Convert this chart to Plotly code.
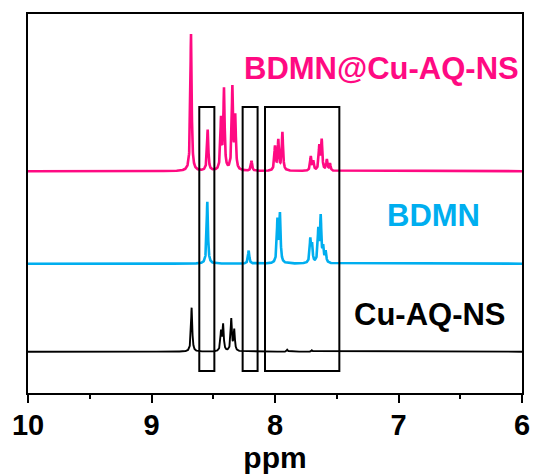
import numpy as np
import plotly.graph_objects as go

# 1H NMR peak lists (chemical shift in ppm, intensity in a.u.)
hybrid_ppm = [8.680, 8.545, 8.437, 8.413, 8.345, 8.322, 8.190,
              8.000, 7.973, 7.940, 7.710, 7.690, 7.641, 7.622, 7.580, 7.555]
hybrid_int = [137, 41, 50, 80, 82, 52, 10,
              24, 30, 38, 14, 9, 24, 30, 11, 7]

bdmn_ppm = [8.548, 8.213, 7.980, 7.960, 7.714, 7.700, 7.649, 7.630, 7.610, 7.590]
bdmn_int = [62, 13, 42, 48, 23, 17, 32, 45, 14, 11]

cu_ppm = [8.675, 8.437, 8.420, 8.354, 8.330, 7.900, 7.700]
cu_int = [44, 19, 26, 32, 21, 2, 1.5]

# vertical stacking offsets of the three traces
offset_cu, offset_bdmn, offset_hybrid = 0.0, 88.0, 180.5

# highlighted chemical-shift windows (ppm from, ppm to)
windows = [(8.613, 8.491), (8.262, 8.141), (8.081, 7.479)]
window_low, window_high = -19.3, 244.7

labels = ["BDMN@Cu-AQ-NS", "BDMN", "Cu-AQ-NS"]
colors = ["#FF0A82", "#00AEEF", "#000000"]

FONT = "Liberation Sans, Arial, sans-serif"

fwhm = 0.012
grid = np.linspace(6.0, 10.0, 4001)


def spectrum(centres, heights):
    y = np.zeros_like(grid)
    for c, h in zip(centres, heights):
        y += h / (1.0 + (2.0 * (grid - c) / fwhm) ** 2)
    return y


fig = go.Figure()
for cen, hts, off, col, w in [
    (cu_ppm, cu_int, offset_cu, colors[2], 1.9),
    (bdmn_ppm, bdmn_int, offset_bdmn, colors[1], 2.6),
    (hybrid_ppm, hybrid_int, offset_hybrid, colors[0], 2.6),
]:
    fig.add_trace(go.Scatter(x=grid, y=spectrum(cen, hts) + off, mode="lines",
                             line=dict(color=col, width=w), showlegend=False,
                             hoverinfo="skip"))

for x0, x1 in windows:
    fig.add_shape(type="rect", x0=x0, x1=x1, y0=window_low, y1=window_high,
                  xref="x", yref="y", line=dict(color="black", width=2),
                  fillcolor="rgba(0,0,0,0)")

label_pos = [(7.138, 283.0), (6.713, 136.5), (6.745, 37.5)]
for text, (lx, ly), col in zip(labels, label_pos, colors):
    fig.add_annotation(x=lx, y=ly, text="<b>" + text + "</b>", showarrow=False,
                       xanchor="center", yanchor="middle",
                       font=dict(family=FONT, size=31, color=col))

fig.update_layout(
    width=534, height=475,
    margin=dict(l=28, r=12, t=14, b=82, autoexpand=False),
    plot_bgcolor="white", paper_bgcolor="white",
    font=dict(family=FONT, color="black"),
    xaxis=dict(
        range=[10, 6], tickvals=[10, 9, 8, 7, 6],
        ticktext=["<b>10</b>", "<b>9</b>", "<b>8</b>", "<b>7</b>", "<b>6</b>"],
        showline=True, linecolor="black", linewidth=2, mirror=True,
        ticks="outside", ticklen=8, tickwidth=2, tickcolor="black",
        minor=dict(dtick=0.5, ticks="outside", ticklen=4, tickwidth=2, tickcolor="black"),
        tickfont=dict(family=FONT, size=29), ticklabelstandoff=-3,
        showgrid=False, zeroline=False, automargin=False,
        title=dict(text="<b>ppm</b>", font=dict(family=FONT, size=30), standoff=0),
    ),
    yaxis=dict(
        range=[-41.3, 337.7], showline=True, linecolor="black", linewidth=2, mirror=True,
        showticklabels=False, ticks="", showgrid=False, zeroline=False, automargin=False,
    ),
)

fig.write_html("out.html")
